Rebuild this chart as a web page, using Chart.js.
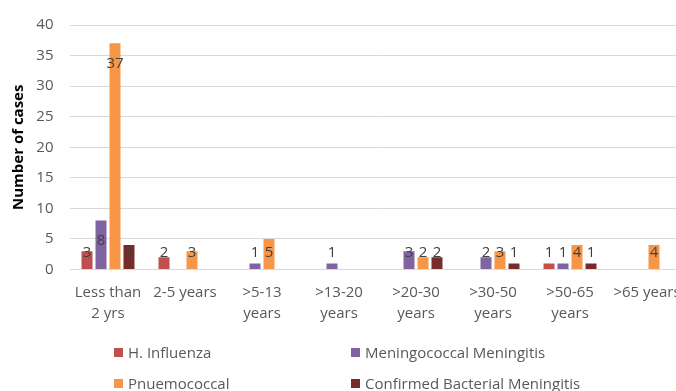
<!DOCTYPE html>
<html>
<head>
<meta charset="utf-8">
<title>Cases by age group</title>
<script src="https://cdn.jsdelivr.net/npm/chart.js@4.4.0/dist/chart.umd.min.js"></script>
<style>
  html, body { margin: 0; padding: 0; background: #fff; overflow: hidden; }
  #wrap { position: relative; width: 700px; height: 391px; }
  .leg { position: absolute; display: flex; align-items: center; height: 20px;
         font: 15px 'Open Sans', sans-serif; color: #595959; white-space: nowrap; }
  .leg .sw { width: 9px; height: 9px; margin-right: 5px; }
</style>
</head>
<body>
<div id="wrap">
  <canvas id="chart"></canvas>
</div>
<script>
// DATA
const ageGroups = [
  ['Less than', '2 yrs'], ['2-5 years'], ['>5-13', 'years'], ['>13-20', 'years'],
  ['>20-30', 'years'], ['>30-50', 'years'], ['>50-65', 'years'], ['>65 years']
];
const hInfluenza     = [3, 2, null, null, null, null, 1, null];
const meningococcal  = [8, null, 1, 1, 3, 2, 1, null];
const pneumococcal   = [37, 3, 5, null, 2, 3, 4, 4];
const confirmedBact  = [4, null, null, null, 2, 1, 1, null];
const seriesNames = ['H. Influenza', 'Meningococcal Meningitis', 'Pnuemococcal', 'Confirmed Bacterial Meningitis'];
const yTicks = [0, 5, 10, 15, 20, 25, 30, 35, 40];

const colors = ['#c0504d', '#8064a2', '#f79646', '#772c2a'];
const FONT = "'Open Sans', sans-serif";

// value labels, Excel style (inside end, kept above the axis)
const valueLabels = {
  id: 'valueLabels',
  afterDatasetsDraw(chart) {
    const ctx = chart.ctx;
    const zeroY = chart.scales.y.getPixelForValue(0);
    ctx.save();
    ctx.font = '15px ' + FONT;
    ctx.fillStyle = '#404040';
    ctx.textAlign = 'center';
    ctx.textBaseline = 'middle';
    chart.data.datasets.forEach((ds, i) => {
      chart.getDatasetMeta(i).data.forEach((bar, j) => {
        const v = ds.data[j];
        if (v == null) return;
        const y = Math.min(bar.y + 20, zeroY - 17);
        ctx.fillText(String(v), bar.x, y);
      });
    });
    ctx.restore();
  }
};

function buildChart() {
  const ctx = document.getElementById('chart');
  const allSeries = [hInfluenza, meningococcal, pneumococcal, confirmedBact];

  const datasets = allSeries.map((data, i) => ({
    label: seriesNames[i],
    data,
    backgroundColor: colors[i],
    categoryPercentage: 0.727,
    barPercentage: 0.786
  }));

  new Chart(ctx, {
    type: 'bar',
    data: { labels: ageGroups, datasets },
    plugins: [valueLabels],
    options: {
      responsive: true,
      maintainAspectRatio: false,
      animation: false,
      layout: { padding: { top: 22.7, right: 14.5, bottom: 54.5, left: 0 } },
      plugins: {
        legend: { display: false },
        tooltip: { enabled: false }
      },
      scales: {
        x: {
          grid: { display: false, drawTicks: false },
          border: { display: false },
          ticks: {
            autoSkip: false, maxRotation: 0, padding: 12.5,
            color: '#595959', font: { family: FONT, size: 15, lineHeight: 1.4 }
          }
        },
        y: {
          min: 0, max: 40,
          afterBuildTicks: (scale) => { scale.ticks = yTicks.map(v => ({ value: v })); },
          afterFit: (scale) => { scale.width = 69.5; },
          grid: { color: '#d9d9d9', drawTicks: false },
          border: { display: false },
          ticks: { padding: 16, color: '#595959', font: { family: FONT, size: 15 } },
          title: {
            display: true, text: 'Number of cases', color: '#000',
            padding: { top: 10, bottom: 0 },
            font: { family: FONT, size: 15, weight: 'bold' }
          }
        }
      }
    }
  });
}

// LEGEND (two columns, like the original)
function buildLegend() {
  const wrap = document.getElementById('wrap');
  const spots = [[114, 342], [351, 342], [114, 373], [351, 373]];
  seriesNames.forEach((name, i) => {
    const el = document.createElement('div');
    el.className = 'leg';
    el.style.left = spots[i][0] + 'px';
    el.style.top = spots[i][1] + 'px';
    el.innerHTML = `<span class="sw" style="background:${colors[i]}"></span><span>${name}</span>`;
    wrap.appendChild(el);
  });
}

buildChart();
buildLegend();
</script>
</body>
</html>
